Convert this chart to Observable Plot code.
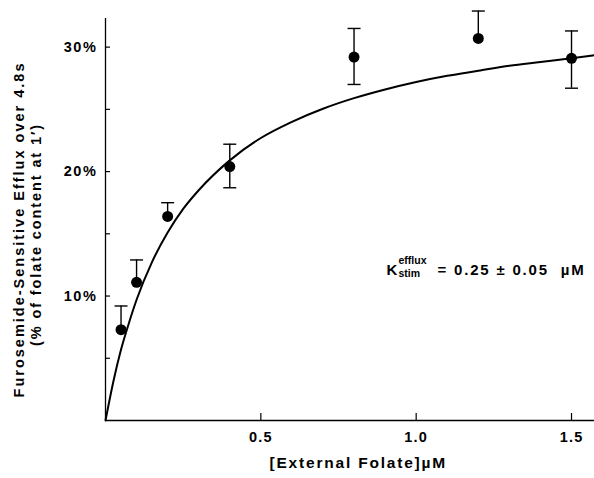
<!DOCTYPE html>
<html>
<head>
<meta charset="utf-8">
<script src="https://cdn.jsdelivr.net/npm/d3@7"></script>
<script src="https://cdn.jsdelivr.net/npm/@observablehq/plot@0.6"></script>
<style>
  html, body { margin: 0; padding: 0; background: white; }
  #chart svg { display: block; }
</style>
</head>
<body>
<div id="chart"></div>
<script>
// Data points: external folate (µM) vs furosemide-sensitive efflux (%)
const folate = [0.05, 0.10, 0.20, 0.40, 0.80, 1.20, 1.50];
const efflux = [7.3, 11.1, 16.4, 20.4, 29.2, 30.7, 29.1];
const errUpper = [9.2, 12.9, 17.5, 22.2, 31.5, 32.9, 31.3];
const errLower = [null, null, null, 18.7, 27.0, null, 26.7];

// Fitted curve
const curveX = [0, 0.025, 0.05, 0.075, 0.1, 0.15, 0.2, 0.25, 0.3, 0.4, 0.5, 0.6, 0.7, 0.8, 0.9, 1.0, 1.1, 1.2, 1.3, 1.4, 1.5, 1.574];
const curveY = [0, 3.1, 5.7, 7.8, 9.7, 12.75, 15.1, 17.0, 18.5, 20.9, 22.7, 24.0, 25.05, 25.9, 26.6, 27.2, 27.7, 28.1, 28.5, 28.8, 29.1, 29.35];

const xTicks = [0.5, 1.0, 1.5];
const yTicks = [10, 20, 30];
const yMinor = [5, 15, 25];

const points = folate.map((x, i) => ({x, y: efflux[i], hi: errUpper[i], lo: errLower[i]}));
const curve = curveX.map((x, i) => ({x, y: curveY[i]}));

const W = 594, H = 478, mL = 105, mT = 18, mB = 58, mR = 0;
const plotH = H - mT - mB;
const ink = "#000";

const capSymbol = {
  draw(context, size) {
    const w = Math.sqrt(size / Math.PI);
    context.moveTo(-w, 0);
    context.lineTo(w, 0);
  }
};

const yTitle1 = "Furosemide-Sensitive Efflux over 4.8s";
const yTitle2 = "(% of folate content at 1′)";
const xTitle = "[External Folate]µM";
const kText = "= 0.25 ± 0.05  µM";

const chart = Plot.plot({
  width: W, height: H,
  marginLeft: mL, marginTop: mT, marginBottom: mB, marginRight: mR,
  style: {fontFamily: "'Liberation Sans', Arial, Helvetica, sans-serif", fontWeight: "bold", color: ink, background: "white", overflow: "visible"},
  x: {domain: [0, 1.574]},
  y: {domain: [0, 32.3]},
  marks: [
    Plot.axisY(yTicks, {tickSize: 0, tickPadding: 8, tickFormat: d => d + "%", fontSize: 14.5, fill: ink, label: null}),
    Plot.axisX(xTicks, {tickSize: 0, tickPadding: 11, tickFormat: d3.format(".1f"), fontSize: 14.5, fill: ink, label: null}),
    Plot.tickY([...yTicks, ...yMinor], {y: d => d, stroke: ink, strokeWidth: 1.2, insetRight: W - mL - mR - 5}),
    Plot.tickX(xTicks, {x: d => d, stroke: ink, strokeWidth: 1.2, insetTop: plotH - 7}),
    Plot.ruleX([0], {stroke: ink, strokeWidth: 1.3}),
    Plot.ruleY([0], {stroke: ink, strokeWidth: 1.3}),
    Plot.line(curve, {x: "x", y: "y", curve: "monotone-x", stroke: ink, strokeWidth: 2}),
    Plot.ruleX(points, {x: "x", y1: d => d.lo ?? d.y, y2: "hi", stroke: ink, strokeWidth: 1.4}),
    Plot.dot(points, {x: "x", y: "hi", symbol: capSymbol, r: 6.5, stroke: ink, strokeWidth: 1.4, fill: "none"}),
    Plot.dot(points.filter(d => d.lo != null), {x: "x", y: "lo", symbol: capSymbol, r: 6.5, stroke: ink, strokeWidth: 1.4, fill: "none"}),
    Plot.dot(points, {x: "x", y: "y", r: 5.5, fill: ink, stroke: "none"}),
    // axis titles
    Plot.text([yTitle1], {frameAnchor: "left", textAnchor: "middle", rotate: -90, dx: 19 - mL, dy: 229 - (mT + plotH / 2), fontSize: 14.5, fill: ink}),
    Plot.text([yTitle2], {frameAnchor: "left", textAnchor: "middle", rotate: -90, dx: 36 - mL, dy: 234 - (mT + plotH / 2), fontSize: 14.5, fill: ink}),
    Plot.text([xTitle], {frameAnchor: "bottom-left", textAnchor: "start", dx: 269 - mL, dy: 467 - (H - mB), fontSize: 15.5, fill: ink}),
    // Kstim annotation
    Plot.text(["K"], {frameAnchor: "top-left", textAnchor: "start", dx: 386 - mL, dy: 264 - mT, fontSize: 15, fill: ink}),
    Plot.text(["efflux"], {frameAnchor: "top-left", textAnchor: "start", dx: 398 - mL, dy: 256 - mT, fontSize: 10.5, fill: ink}),
    Plot.text(["stim"], {frameAnchor: "top-left", textAnchor: "start", dx: 398 - mL, dy: 269 - mT, fontSize: 10.5, fill: ink}),
    Plot.text([kText], {frameAnchor: "top-left", textAnchor: "start", dx: 437 - mL, dy: 264 - mT, fontSize: 15, fill: ink})
  ]
});

// letter spacing, applied inline by text content
const spacing = new Map([
  [yTitle1, "2.0px"], [yTitle2, "1.9px"], [xTitle, "1.8px"], [kText, "1.8px"],
  ["10%", "1.6px"], ["20%", "1.6px"], ["30%", "1.6px"],
  ["0.5", "1.2px"], ["1.0", "1.2px"], ["1.5", "1.2px"]
]);
d3.select(chart).selectAll("text").each(function() {
  const ls = spacing.get(this.textContent);
  if (ls) d3.select(this).style("letter-spacing", ls);
});
document.getElementById("chart").appendChild(chart);
</script>
</body>
</html>
